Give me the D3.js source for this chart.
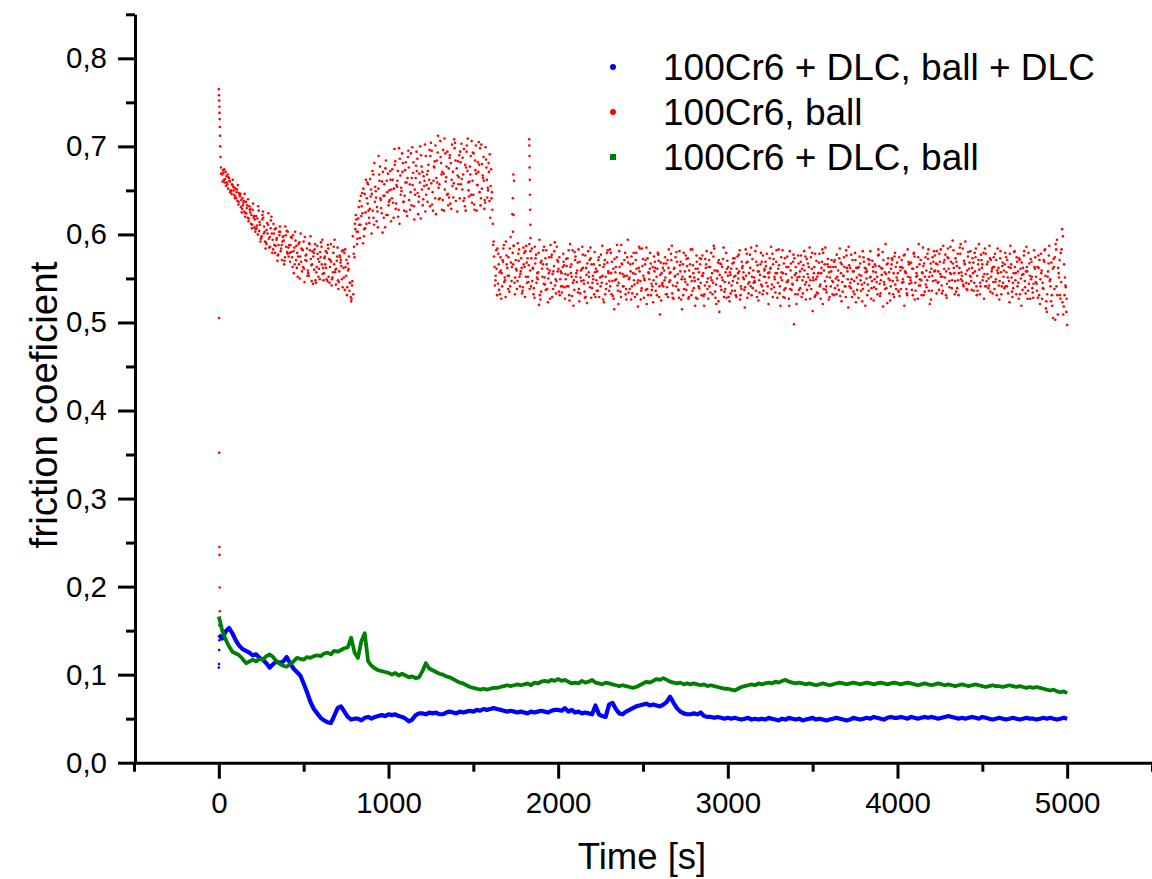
<!DOCTYPE html>
<html>
<head>
<meta charset="utf-8">
<script src="https://cdn.jsdelivr.net/npm/d3@7"></script>
<style>
  body { margin: 0; background: #fff; }
  svg { display: block; }
  text { font-family: "Liberation Sans", Arial, sans-serif; fill: #000; }
</style>
</head>
<body>
<div id="chart"></div>
<script>
"use strict";

// legend / series
var seriesNames = ["100Cr6 + DLC, ball + DLC", "100Cr6, ball", "100Cr6 + DLC, ball"];
var seriesColors = ["#0000ff", "#ff0000", "#008000"];

// axes
var xTicks = [0, 1000, 2000, 3000, 4000, 5000];
var xMinorTicks = [-500, 500, 1500, 2500, 3500, 4500, 5500];
var yTicks = [0, 0.1, 0.2, 0.3, 0.4, 0.5, 0.6, 0.7, 0.8];
var yMinorTicks = [0.05, 0.15, 0.25, 0.35, 0.45, 0.55, 0.65, 0.75, 0.85];

// 100Cr6, ball : first readings right at the start
var redEarlyTime = [0, 1, 2, 3, 4, 5, 6, 7, 8, 10, 12, 14, 1, 2, 3, 4, 5, 6];
var redEarlyVal = [0.765, 0.758, 0.752, 0.745, 0.738, 0.731, 0.722, 0.712, 0.70, 0.688, 0.676, 0.669, 0.505, 0.352, 0.245, 0.236, 0.199, 0.172];
// isolated vertical bursts
var redSpikeTime = [1733, 1734, 1736, 1737, 1739, 1829, 1830, 1831, 1832, 1833, 1834, 1835, 1836, 1837];
var redSpikeVal = [0.641, 0.603, 0.668, 0.622, 0.587, 0.708, 0.701, 0.689, 0.676, 0.662, 0.645, 0.628, 0.611, 0.596];

// 100Cr6, ball : readings every 10 s, four interleaved passes
var redAStart = 20;
var redAVals = [
  .668,.662,.671,.657,.664,.650,.656,.645,.652,.638,.647,.631,.641,.626,.637,.619,.632,.612,.628,.608,
  .621,.600,.614,.596,.626,.603,.589,.611,.597,.620,.583,.606,.594,.577,.609,.588,.598,.574,.604,.585,
  .569,.596,.581,.603,.562,.589,.575,.558,.592,.571,.584,.553,.598,.566,.579,.548,.587,.561,.574,.594,
  .556,.581,.547,.572,.589,.551,.566,.543,.585,.558,.571,.540,.579,.553,.567,.536,.524,.598,.574,.617,
  .603,.638,.621,.590,.646,.612,.657,.629,.601,.668,.637,.615,.652,.677,.624,.644,.608,.661,.633,.672,
  .641,.619,.683,.654,.628,.667,.692,.637,.659,.621,.676,.648,.699,.632,.664,.686,.643,.618,.671,.655,
  .689,.637,.662,.704,.648,.676,.623,.693,.657,.681,.639,.709,.665,.646,.687,.629,.671,.698,.652,.683,
  .641,.703,.668,.632,.694,.659,.677,.706,.645,.684,.627,.671,.698,.652,.688,.636,.662,.681,.619,.648,
  .592,.548,.531,.566,.574,.541,.588,.529,.562,.553,.597,.623,.661,.571,.547,.583,.558,.536,.579,.552,
  .573,.589,.541,.562,.528,.577,.549,.594,.535,.566,.551,.582,.523,.559,.574,.538,.591,.547,.569,.531,
  .556,.578,.527,.564,.541,.589,.552,.519,.571,.546,.583,.533,.561,.548,.576,.522,.557,.585,.539,.566,
  .529,.558,.574,.541,.587,.523,.552,.568,.536,.579,.547,.515,.563,.542,.581,.529,.555,.571,.538,.594,
  .551,.526,.567,.543,.579,.518,.558,.536,.572,.548,.585,.531,.561,.544,.523,.569,.552,.577,.509,.556,
  .541,.574,.532,.562,.548,.587,.527,.553,.569,.537,.558,.515,.579,.546,.564,.529,.552,.583,.539,.561,
  .527,.557,.545,.576,.519,.562,.538,.571,.551,.532,.584,.543,.558,.512,.566,.548,.535,.579,.553,.524,
  .561,.547,.573,.529,.556,.582,.538,.551,.517,.568,.544,.577,.531,.559,.546,.587,.525,.554,.569,.536,
  .552,.578,.521,.561,.543,.572,.534,.556,.583,.519,.548,.567,.539,.575,.527,.559,.544,.498,.563,.551,
  .537,.569,.548,.581,.526,.555,.542,.574,.513,.563,.549,.533,.578,.556,.521,.566,.541,.572,.529,.558,
  .546,.571,.532,.559,.584,.524,.553,.541,.576,.517,.562,.549,.535,.579,.551,.528,.567,.543,.574,.519,
  .558,.536,.581,.547,.525,.564,.552,.577,.533,.561,.546,.589,.522,.557,.541,.571,.529,.563,.548,.574,
  .538,.562,.519,.556,.583,.544,.568,.531,.575,.552,.527,.566,.548,.585,.535,.559,.572,.521,.561,.547,
  .576,.533,.558,.569,.542,.587,.551,.528,.573,.556,.539,.582,.547,.564,.531,.578,.553,.541,.592,.559,
  .544,.581,.562,.536,.574,.553,.589,.541,.566,.527,.578,.555,.542,.571,.533,.563,.549,.584,.526,.557,
  .568,.539,.574,.551,.523,.566,.545,.581,.532,.558,.571,.519,.562,.547,.586,.536,.553,.569,.528,.561,
  .544,.576,.521,.559,.538,.583,.512,.567,.549,.531,.572,.503,.594,.556,.527,.606,.518,.542,.497
];

var redBStart = 25;
var redBVals = [
  .673,.659,.666,.652,.660,.646,.654,.641,.648,.634,.643,.625,.636,.620,.630,.615,.625,.607,.619,.603,
  .610,.627,.592,.617,.601,.584,.613,.595,.607,.579,.601,.587,.570,.603,.581,.592,.566,.599,.578,.588,
  .597,.563,.585,.571,.552,.591,.569,.582,.546,.577,.559,.589,.565,.544,.583,.557,.572,.549,.586,.562,
  .575,.549,.584,.563,.542,.579,.557,.570,.538,.574,.549,.562,.583,.531,.561,.545,.542,.578,.606,.589,
  .631,.611,.647,.598,.625,.659,.619,.643,.672,.611,.649,.626,.668,.639,.602,.657,.684,.622,.650,.615,
  .662,.697,.635,.672,.612,.653,.681,.644,.626,.688,.657,.633,.670,.651,.694,.623,.659,.677,.640,.702,
  .656,.679,.632,.695,.661,.641,.684,.653,.706,.628,.669,.692,.645,.675,.635,.702,.658,.684,.626,.665,
  .682,.651,.697,.627,.672,.643,.689,.661,.634,.701,.656,.679,.641,.667,.629,.685,.653,.638,.674,.612,
  .563,.582,.544,.557,.527,.569,.551,.576,.538,.584,.547,.566,.532,.559,.578,.541,.562,.585,.529,.568,
  .546,.559,.584,.532,.567,.551,.579,.526,.561,.544,.573,.538,.556,.588,.529,.564,.549,.571,.535,.558,
  .541,.565,.549,.573,.531,.556,.582,.537,.552,.568,.524,.559,.577,.535,.562,.545,.571,.528,.553,.580,
  .548,.536,.565,.552,.526,.571,.544,.558,.583,.532,.561,.548,.574,.521,.556,.567,.541,.579,.553,.534,
  .566,.541,.579,.555,.532,.562,.547,.584,.528,.571,.538,.556,.567,.541,.575,.536,.561,.529,.568,.545,
  .559,.532,.571,.546,.578,.528,.562,.541,.555,.581,.526,.566,.549,.537,.573,.552,.531,.565,.547,.576,
  .549,.573,.531,.556,.542,.581,.527,.563,.548,.575,.535,.559,.524,.567,.551,.585,.538,.561,.529,.554,
  .536,.568,.553,.545,.577,.531,.562,.549,.583,.528,.556,.541,.572,.551,.536,.565,.548,.579,.532,.559,
  .564,.541,.557,.586,.529,.552,.569,.545,.533,.574,.556,.528,.563,.548,.581,.537,.569,.554,.521,.576,
  .558,.529,.565,.543,.572,.551,.527,.561,.548,.578,.534,.556,.543,.569,.538,.585,.552,.526,.563,.547,
  .531,.563,.552,.537,.568,.546,.574,.529,.558,.565,.539,.571,.547,.523,.562,.554,.536,.581,.545,.561,
  .543,.571,.527,.563,.549,.538,.576,.544,.562,.518,.557,.539,.573,.548,.566,.532,.579,.551,.536,.563,
  .571,.546,.558,.533,.569,.551,.537,.578,.545,.563,.589,.542,.557,.531,.574,.548,.536,.567,.553,.581,
  .548,.566,.537,.583,.552,.561,.531,.574,.547,.569,.593,.556,.535,.578,.562,.549,.584,.567,.545,.575,
  .568,.547,.556,.579,.541,.566,.532,.571,.552,.584,.547,.539,.573,.558,.546,.578,.531,.562,.573,.541,
  .552,.579,.541,.563,.587,.535,.556,.548,.569,.527,.561,.554,.576,.533,.558,.544,.572,.539,.582,.546,
  .563,.531,.578,.545,.569,.516,.552,.587,.524,.561,.538,.583,.509,.571,.546,.598,.531,.512
];

var redCStart = 22;
var redCVals = [
  .660,.674,.655,.668,.661,.649,.662,.653,.641,.656,.645,.639,.633,.646,.624,.640,.628,.622,.635,.617,
  .607,.632,.611,.598,.619,.592,.605,.624,.586,.601,.612,.579,.596,.588,.603,.571,.593,.609,.580,.575,
  .588,.574,.556,.593,.579,.566,.601,.583,.561,.576,.553,.590,.572,.581,.560,.545,.578,.569,.591,.555,
  .573,.562,.588,.545,.569,.557,.594,.561,.548,.576,.564,.582,.537,.571,.559,.545,.527,.532,.612,.603,
  .618,.596,.632,.652,.607,.641,.627,.663,.646,.619,.654,.631,.689,.641,.660,.619,.675,.648,.637,.662,
  .674,.652,.629,.661,.698,.645,.671,.627,.682,.664,.639,.692,.656,.617,.678,.647,.669,.690,.633,.661,
  .645,.672,.696,.658,.627,.683,.664,.712,.641,.668,.696,.651,.677,.633,.690,.662,.642,.704,.675,.657,
  .694,.663,.638,.679,.701,.650,.668,.636,.692,.673,.656,.705,.633,.680,.661,.699,.642,.671,.655,.628,
  .575,.553,.584,.537,.559,.571,.546,.592,.553,.535,.568,.579,.545,.561,.590,.552,.573,.540,.563,.587,
  .552,.538,.573,.561,.586,.545,.557,.531,.570,.582,.543,.566,.550,.527,.577,.558,.542,.586,.561,.549,
  .534,.569,.555,.541,.582,.563,.530,.548,.575,.559,.538,.551,.586,.544,.529,.567,.552,.573,.545,.532,
  .561,.544,.529,.577,.553,.566,.538,.582,.547,.556,.530,.572,.549,.536,.563,.588,.541,.553,.526,.568,
  .538,.575,.556,.529,.561,.548,.584,.539,.553,.566,.521,.557,.579,.537,.548,.562,.531,.570,.554,.543,
  .567,.551,.540,.583,.557,.533,.561,.574,.545,.528,.569,.552,.538,.576,.543,.559,.583,.536,.551,.528,
  .561,.539,.572,.553,.532,.566,.550,.541,.579,.545,.559,.521,.568,.554,.537,.572,.546,.528,.563,.557,
  .542,.573,.536,.561,.550,.526,.569,.557,.540,.578,.533,.562,.552,.545,.581,.529,.558,.566,.541,.552,
  .569,.533,.551,.562,.578,.540,.556,.528,.565,.551,.582,.537,.555,.546,.519,.567,.543,.573,.556,.532,
  .552,.576,.533,.559,.546,.567,.585,.538,.551,.529,.570,.556,.541,.562,.579,.547,.534,.563,.551,.571,
  .563,.539,.577,.548,.530,.566,.553,.541,.562,.586,.545,.529,.558,.571,.537,.563,.548,.524,.569,.557,
  .531,.566,.552,.570,.540,.557,.532,.564,.548,.580,.543,.555,.567,.533,.561,.547,.575,.538,.556,.530,
  .563,.549,.577,.538,.552,.567,.545,.561,.526,.556,.574,.549,.531,.564,.552,.540,.583,.557,.536,.569,
  .559,.581,.546,.555,.533,.568,.577,.544,.561,.586,.548,.562,.573,.539,.556,.589,.547,.570,.555,.537,
  .561,.552,.573,.545,.584,.536,.560,.577,.548,.555,.541,.569,.587,.552,.563,.538,.571,.556,.547,.532,
  .545,.566,.557,.533,.578,.551,.539,.563,.574,.545,.532,.568,.555,.540,.563,.579,.527,.552,.544,.574,
  .536,.562,.549,.527,.571,.553,.532,.576,.541,.519,.563,.589,.531,.551,.579,.523,.566,.540
];

var redDStart = 27;
var redDVals = [
  .670,.663,.659,.665,.648,.657,.650,.643,.651,.637,.646,.629,.638,.624,.633,.618,.629,.611,.621,.606,
  .618,.604,.595,.622,.609,.591,.601,.585,.616,.594,.588,.607,.576,.599,.584,.597,.570,.586,.603,.579,
  .580,.599,.566,.587,.575,.550,.584,.563,.597,.570,.556,.582,.547,.575,.589,.563,.552,.580,.566,.548,
  .566,.579,.552,.571,.549,.586,.560,.575,.546,.568,.581,.551,.563,.540,.575,.529,.547,.586,.622,.595,
  .611,.644,.624,.606,.662,.635,.613,.651,.627,.681,.642,.608,.661,.630,.671,.644,.622,.669,.639,.651,
  .636,.679,.656,.620,.686,.649,.637,.673,.659,.695,.628,.664,.682,.645,.672,.637,.700,.651,.666,.626,
  .668,.652,.689,.634,.677,.701,.659,.640,.688,.671,.627,.660,.694,.642,.681,.655,.708,.638,.667,.690,
  .657,.687,.641,.676,.709,.660,.645,.693,.628,.669,.682,.648,.702,.664,.639,.676,.650,.691,.641,.588,
  .542,.561,.578,.532,.556,.584,.548,.566,.574,.541,.563,.587,.551,.538,.570,.555,.533,.566,.581,.545,
  .565,.581,.547,.539,.573,.556,.520,.568,.552,.586,.537,.561,.574,.545,.555,.581,.533,.558,.574,.541,
  .563,.540,.572,.554,.525,.566,.545,.580,.556,.534,.569,.547,.562,.528,.554,.581,.540,.566,.549,.557,
  .536,.571,.551,.545,.563,.532,.579,.556,.541,.569,.527,.557,.588,.545,.535,.566,.552,.532,.574,.549,
  .558,.533,.548,.571,.545,.586,.526,.564,.550,.537,.573,.549,.531,.563,.558,.544,.579,.541,.525,.562,
  .548,.567,.529,.556,.571,.542,.552,.580,.537,.565,.549,.531,.558,.572,.527,.566,.547,.556,.519,.569,
  .541,.566,.553,.530,.572,.546,.563,.534,.556,.587,.528,.550,.571,.541,.563,.529,.557,.570,.545,.533,
  .567,.552,.531,.575,.558,.541,.564,.537,.553,.569,.546,.585,.539,.547,.569,.558,.534,.543,.576,.561,
  .545,.556,.573,.538,.566,.549,.582,.561,.541,.557,.529,.573,.546,.563,.538,.551,.577,.532,.548,.567,
  .539,.561,.552,.575,.537,.563,.548,.579,.556,.531,.552,.568,.527,.583,.559,.537,.566,.557,.541,.532,
  .569,.550,.542,.573,.556,.535,.563,.582,.549,.541,.577,.558,.532,.562,.544,.575,.553,.538,.562,.550,
  .572,.551,.539,.558,.566,.546,.583,.530,.554,.571,.538,.566,.550,.525,.573,.556,.543,.568,.535,.559,
  .545,.576,.557,.531,.566,.548,.561,.579,.536,.553,.542,.571,.556,.567,.543,.578,.552,.526,.574,.558,
  .567,.545,.578,.552,.536,.571,.558,.584,.540,.555,.567,.532,.569,.548,.585,.557,.543,.566,.538,.580,
  .553,.537,.568,.558,.531,.571,.545,.562,.579,.541,.566,.550,.535,.561,.574,.546,.559,.542,.581,.564,
  .559,.541,.571,.547,.562,.529,.580,.556,.541,.573,.550,.537,.581,.558,.527,.567,.549,.534,.563,.552,
  .528,.571,.556,.539,.582,.524,.558,.547,.568,.505,.574,.541,.562,.531,.583,.509,.551,.527
];
var redStep = 10;

// 100Cr6 + DLC, ball + DLC : every 20 s
var blueEarlyTime = [0, 1, 2, 3, 4];
var blueEarlyVal = [0.108, 0.112, 0.128, 0.139, 0.156];
var blueStep = 20;
var blueVals = [
  .145,.141,.149,.153,.147,.139,.133,.129,.127,.125,
  .122,.123,.119,.117,.113,.108,.112,.115,.113,.115,
  .120,.113,.107,.103,.099,.090,.080,.069,.061,.056,
  .051,.048,.046,.045,.053,.062,.064,.058,.052,.049,
  .050,.050,.048,.051,.052,.050,.052,.053,.054,.053,
  .055,.054,.055,.053,.052,.050,.047,.049,.054,.056,
  .056,.055,.057,.056,.057,.055,.055,.057,.058,.057,
  .056,.058,.057,.058,.059,.058,.060,.059,.061,.060,
  .061,.062,.061,.060,.059,.058,.059,.058,.057,.058,
  .057,.056,.058,.057,.058,.059,.058,.057,.059,.060,
  .060,.059,.062,.058,.060,.057,.058,.056,.057,.056,
  .055,.065,.055,.053,.052,.066,.068,.061,.056,.055,
  .058,.060,.062,.064,.065,.066,.067,.065,.066,.065,
  .064,.066,.069,.075,.068,.062,.058,.056,.055,.055,
  .056,.055,.057,.053,.052,.052,.051,.052,.051,.050,
  .051,.050,.051,.050,.049,.050,.051,.049,.050,.049,
  .050,.049,.051,.050,.049,.048,.050,.049,.051,.050,
  .049,.050,.048,.049,.050,.051,.049,.050,.049,.048,
  .049,.050,.051,.050,.049,.048,.049,.051,.050,.049,
  .050,.051,.050,.052,.051,.050,.049,.051,.052,.051,
  .051,.052,.051,.050,.052,.051,.050,.051,.052,.051,
  .052,.051,.050,.051,.052,.053,.052,.051,.050,.051,
  .050,.051,.052,.051,.050,.052,.051,.050,.049,.050,
  .051,.050,.049,.050,.051,.050,.049,.050,.051,.050,
  .050,.049,.050,.051,.050,.051,.050,.049,.050,.051,
  .050
];

// 100Cr6 + DLC, ball : every 20 s
var greenStep = 20;
var greenVals = [
  .166,.150,.140,.132,.126,.124,.122,.118,.113,.115,
  .117,.115,.118,.117,.121,.123,.120,.115,.112,.110,
  .109,.112,.115,.119,.118,.117,.120,.119,.121,.122,
  .121,.124,.125,.123,.127,.126,.128,.130,.131,.142,
  .125,.119,.138,.147,.115,.110,.107,.105,.104,.103,
  .102,.100,.102,.099,.101,.099,.097,.098,.096,.097,
  .104,.113,.107,.105,.103,.101,.100,.098,.097,.095,
  .093,.091,.090,.088,.086,.085,.084,.083,.084,.083,
  .084,.085,.085,.086,.087,.088,.087,.088,.089,.088,
  .089,.090,.088,.091,.090,.092,.093,.092,.094,.093,
  .095,.093,.094,.092,.090,.091,.090,.093,.091,.092,
  .094,.091,.090,.089,.091,.090,.089,.088,.087,.088,
  .087,.086,.085,.086,.088,.090,.092,.091,.093,.095,
  .094,.096,.094,.092,.091,.090,.091,.089,.090,.089,
  .090,.089,.088,.089,.087,.088,.087,.086,.085,.084,
  .084,.083,.082,.084,.086,.087,.088,.089,.088,.090,
  .089,.090,.091,.090,.092,.091,.093,.094,.092,.091,
  .090,.091,.090,.089,.090,.089,.088,.089,.090,.089,
  .088,.089,.090,.091,.090,.089,.090,.091,.090,.089,
  .090,.091,.090,.089,.090,.091,.090,.089,.090,.091,
  .090,.089,.090,.091,.090,.089,.088,.089,.090,.089,
  .088,.089,.090,.089,.088,.089,.088,.087,.088,.089,
  .088,.087,.088,.089,.088,.087,.086,.087,.088,.087,
  .087,.086,.087,.088,.087,.086,.087,.086,.085,.086,
  .085,.086,.085,.084,.083,.082,.083,.081,.080,.081,
  .079
];


function toPoints(start, step, vals) {
  return vals.map(function(v, i) { return {t: start + i * step, v: v}; });
}

function zipPoints(times, vals) {
  return vals.map(function(v, i) { return {t: times[i], v: v}; });
}

var width = 1152, height = 879;
var chart = {left: 134, right: 1152, top: 14.3, bottom: 762.7, axisX: 135};

var svg = d3.select("#chart").append("svg")
  .attr("width", width)
  .attr("height", height);

var x = d3.scaleLinear().domain([-500, 5500]).range([chart.left, chart.right]);
var y = d3.scaleLinear().domain([0, 0.85]).range([chart.bottom, chart.top]);

var commaFmt = function(d) { return d3.format(".1f")(d).replace(".", ","); };

// data layer
var plot = svg.append("g");

var blueData = toPoints(0, blueStep, blueVals);
var greenData = toPoints(0, greenStep, greenVals);
var redData = toPoints(redAStart, redStep, redAVals)
  .concat(toPoints(redBStart, redStep, redBVals))
  .concat(toPoints(redCStart, redStep, redCVals))
  .concat(toPoints(redDStart, redStep, redDVals))
  .concat(zipPoints(redEarlyTime, redEarlyVal))
  .concat(zipPoints(redSpikeTime, redSpikeVal));

var line = d3.line()
  .x(function(d) { return x(d.t); })
  .y(function(d) { return y(d.v); });

plot.append("path")
  .datum(blueData)
  .attr("fill", "none")
  .attr("stroke", seriesColors[0])
  .attr("stroke-width", 4.2)
  .attr("stroke-linejoin", "round")
  .attr("d", line);

plot.selectAll("circle.blue")
  .data(zipPoints(blueEarlyTime, blueEarlyVal))
  .enter().append("circle")
    .attr("class", "blue")
    .attr("cx", function(d) { return x(d.t); })
    .attr("cy", function(d) { return y(d.v); })
    .attr("r", 1.3)
    .attr("fill", seriesColors[0]);

plot.selectAll("circle.red")
  .data(redData)
  .enter().append("circle")
    .attr("class", "red")
    .attr("cx", function(d) { return x(d.t); })
    .attr("cy", function(d) { return y(d.v); })
    .attr("r", 1.3)
    .attr("fill", seriesColors[1]);

plot.append("path")
  .datum(greenData)
  .attr("fill", "none")
  .attr("stroke", seriesColors[2])
  .attr("stroke-width", 3.8)
  .attr("stroke-linejoin", "round")
  .attr("d", line);

// axes
var yAxis = svg.append("g")
  .attr("transform", "translate(" + chart.axisX + ",0)")
  .call(d3.axisLeft(y).tickValues(yTicks).tickSize(17).tickSizeOuter(0).tickPadding(11).tickFormat(commaFmt));

var yMinor = svg.append("g")
  .attr("transform", "translate(" + chart.axisX + ",0)")
  .call(d3.axisLeft(y).tickValues(yMinorTicks).tickSize(9).tickSizeOuter(0).tickFormat(""));

var xAxis = svg.append("g")
  .attr("transform", "translate(0," + chart.bottom + ")")
  .call(d3.axisBottom(x).tickValues(xTicks).tickSize(16).tickSizeOuter(0).tickPadding(13).tickFormat(d3.format("d")));

var xMinor = svg.append("g")
  .attr("transform", "translate(0," + chart.bottom + ")")
  .call(d3.axisBottom(x).tickValues(xMinorTicks).tickSize(9).tickSizeOuter(0).tickFormat(""));

[yAxis, yMinor, xAxis, xMinor].forEach(function(g) {
  g.selectAll("path, line").attr("stroke", "#000").attr("stroke-width", 3);
  g.selectAll("text")
    .attr("fill", "#000")
    .style("font-size", "29.5px")
    .style("font-family", '"Liberation Sans", Arial, sans-serif');
});
yMinor.select(".domain").remove();
xMinor.select(".domain").remove();

// axis titles
svg.append("text")
  .attr("x", 642)
  .attr("y", 869)
  .attr("text-anchor", "middle")
  .style("font-size", "36.5px")
  .text("Time [s]");

svg.append("text")
  .attr("transform", "translate(57,405) rotate(-90)")
  .attr("text-anchor", "middle")
  .style("font-size", "38.5px")
  .text("friction coeficient");

// legend
var legend = svg.append("g").attr("transform", "translate(613,67)");
var items = legend.selectAll("g")
  .data(seriesNames)
  .enter().append("g")
    .attr("transform", function(d, i) { return "translate(0," + (i * 45) + ")"; });

items.each(function(d, i) {
  var g = d3.select(this);
  if (i === 2) {
    g.append("rect").attr("x", -3).attr("y", -3).attr("width", 6).attr("height", 6).attr("fill", seriesColors[i]);
  } else {
    g.append("circle").attr("r", 3).attr("fill", seriesColors[i]);
  }
  g.append("text")
    .attr("x", 50)
    .attr("y", 12.5)
    .style("font-size", "37px")
    .text(d);
});
</script>
</body>
</html>
